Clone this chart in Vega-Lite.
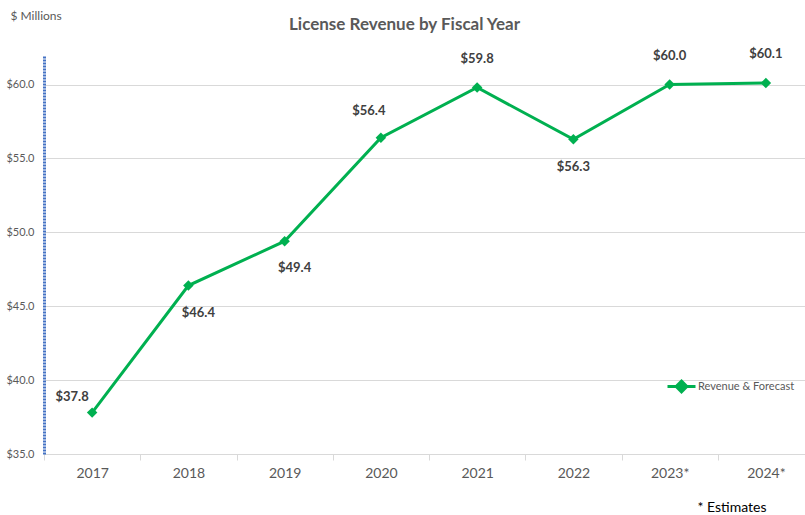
{
  "$schema": "https://vega.github.io/schema/vega-lite/v6.json",
  "autosize": "none",
  "width": 761,
  "height": 399,
  "padding": {"left": 44, "top": 55, "right": 0, "bottom": 61},
  "background": "white",
  "config": {
    "view": {"stroke": null},
    "font": "Lato",
    "title": {"font": "Lato", "fontSize": 17, "fontWeight": "bold", "color": "#595959"}
  },
  "title": {"text": "License Revenue by Fiscal Year", "anchor": "middle", "frame": "group", "dx": -20, "offset": -42, "baseline": "bottom"},
  "data": {
    "values": [
      {"year": "2017", "revenue": 37.8},
      {"year": "2018", "revenue": 46.4},
      {"year": "2019", "revenue": 49.4},
      {"year": "2020", "revenue": 56.4},
      {"year": "2021", "revenue": 59.8},
      {"year": "2022", "revenue": 56.3},
      {"year": "2023*", "revenue": 60.0},
      {"year": "2024*", "revenue": 60.1}
    ]
  },
  "encoding": {
    "x": {
      "field": "year", "type": "nominal", "sort": null,
      "scale": {"range": [0, 770], "paddingInner": 0, "paddingOuter": 0},
      "axis": {
        "title": "* Estimates",
        "titleX": 653, "titleY": 53, "titleAlign": "left", "titleBaseline": "middle",
        "titleFontSize": 14, "titleFontWeight": "normal", "titleColor": "#000000", "titleFont": "Lato",
        "labelAngle": 0, "labelFontSize": 14, "labelColor": "#595959", "labelPadding": 6, "labelFont": "Lato",
        "tickBand": "extent",
        "tickColor": "#d9d9d9", "tickSize": 6, "domainColor": "#d9d9d9", "grid": false
      }
    },
    "y": {
      "field": "revenue", "type": "quantitative",
      "scale": {"domain": [35, 62], "nice": false, "zero": false},
      "axis": {
        "values": [35, 40, 45, 50, 55, 60],
        "labelExpr": "'$' + format(datum.value, '.1f')",
        "labelFontSize": 11, "labelColor": "#595959", "labelPadding": 10, "labelFont": "Lato",
        "ticks": false,
        "domainColor": "#4472c4", "domainWidth": 3, "domainDash": [2, 1],
        "gridColor": "#d9d9d9", "gridWidth": 1,
        "title": "$ Millions", "titleAngle": 0, "titleX": -34, "titleY": -40,
        "titleAlign": "left", "titleBaseline": "middle", "titleFontSize": 12,
        "titleFontWeight": "normal", "titleColor": "#595959", "titleFont": "Lato"
      }
    }
  },
  "layer": [
    {
      "mark": {"type": "line", "strokeWidth": 3},
      "encoding": {
        "color": {
          "datum": "Revenue & Forecast",
          "scale": {"range": ["#00b050"]},
          "legend": {
            "title": null, "orient": "none", "legendX": 622, "legendY": 316,
            "symbolType": "M-1,0L1,0M0,-0.38L0.38,0L0,0.38L-0.38,0Z",
            "symbolSize": 784, "symbolStrokeWidth": 3, "symbolFillColor": "#00b050",
            "symbolStrokeColor": "#00b050",
            "labelFontSize": 11, "labelColor": "#595959", "labelFont": "Lato", "labelOffset": 1
          }
        }
      }
    },
    {
      "mark": {"type": "point", "shape": "diamond", "filled": true, "size": 110, "color": "#00b050", "opacity": 1}
    },
    {
      "transform": [{"filter": {"field": "year", "oneOf": ["2021", "2023*", "2024*"]}}],
      "mark": {"type": "text", "dy": -29, "fontSize": 13, "fontWeight": "bold", "color": "#404040", "font": "Lato"},
      "encoding": {"text": {"field": "revenue", "type": "quantitative", "format": "$.1f"}}
    },
    {
      "transform": [{"filter": {"field": "year", "oneOf": ["2020"]}}],
      "mark": {"type": "text", "dy": -27, "dx": -12, "fontSize": 13, "fontWeight": "bold", "color": "#404040", "font": "Lato"},
      "encoding": {"text": {"field": "revenue", "type": "quantitative", "format": "$.1f"}}
    },
    {
      "transform": [{"filter": {"field": "year", "oneOf": ["2022"]}}],
      "mark": {"type": "text", "dy": 28, "fontSize": 13, "fontWeight": "bold", "color": "#404040", "font": "Lato"},
      "encoding": {"text": {"field": "revenue", "type": "quantitative", "format": "$.1f"}}
    },
    {
      "transform": [{"filter": {"field": "year", "oneOf": ["2018", "2019"]}}],
      "mark": {"type": "text", "dy": 27, "dx": 10, "fontSize": 13, "fontWeight": "bold", "color": "#404040", "font": "Lato"},
      "encoding": {"text": {"field": "revenue", "type": "quantitative", "format": "$.1f"}}
    },
    {
      "transform": [{"filter": {"field": "year", "oneOf": ["2017"]}}],
      "mark": {"type": "text", "dy": -16, "dx": -20, "fontSize": 13, "fontWeight": "bold", "color": "#404040", "font": "Lato"},
      "encoding": {"text": {"field": "revenue", "type": "quantitative", "format": "$.1f"}}
    }
  ]
}
